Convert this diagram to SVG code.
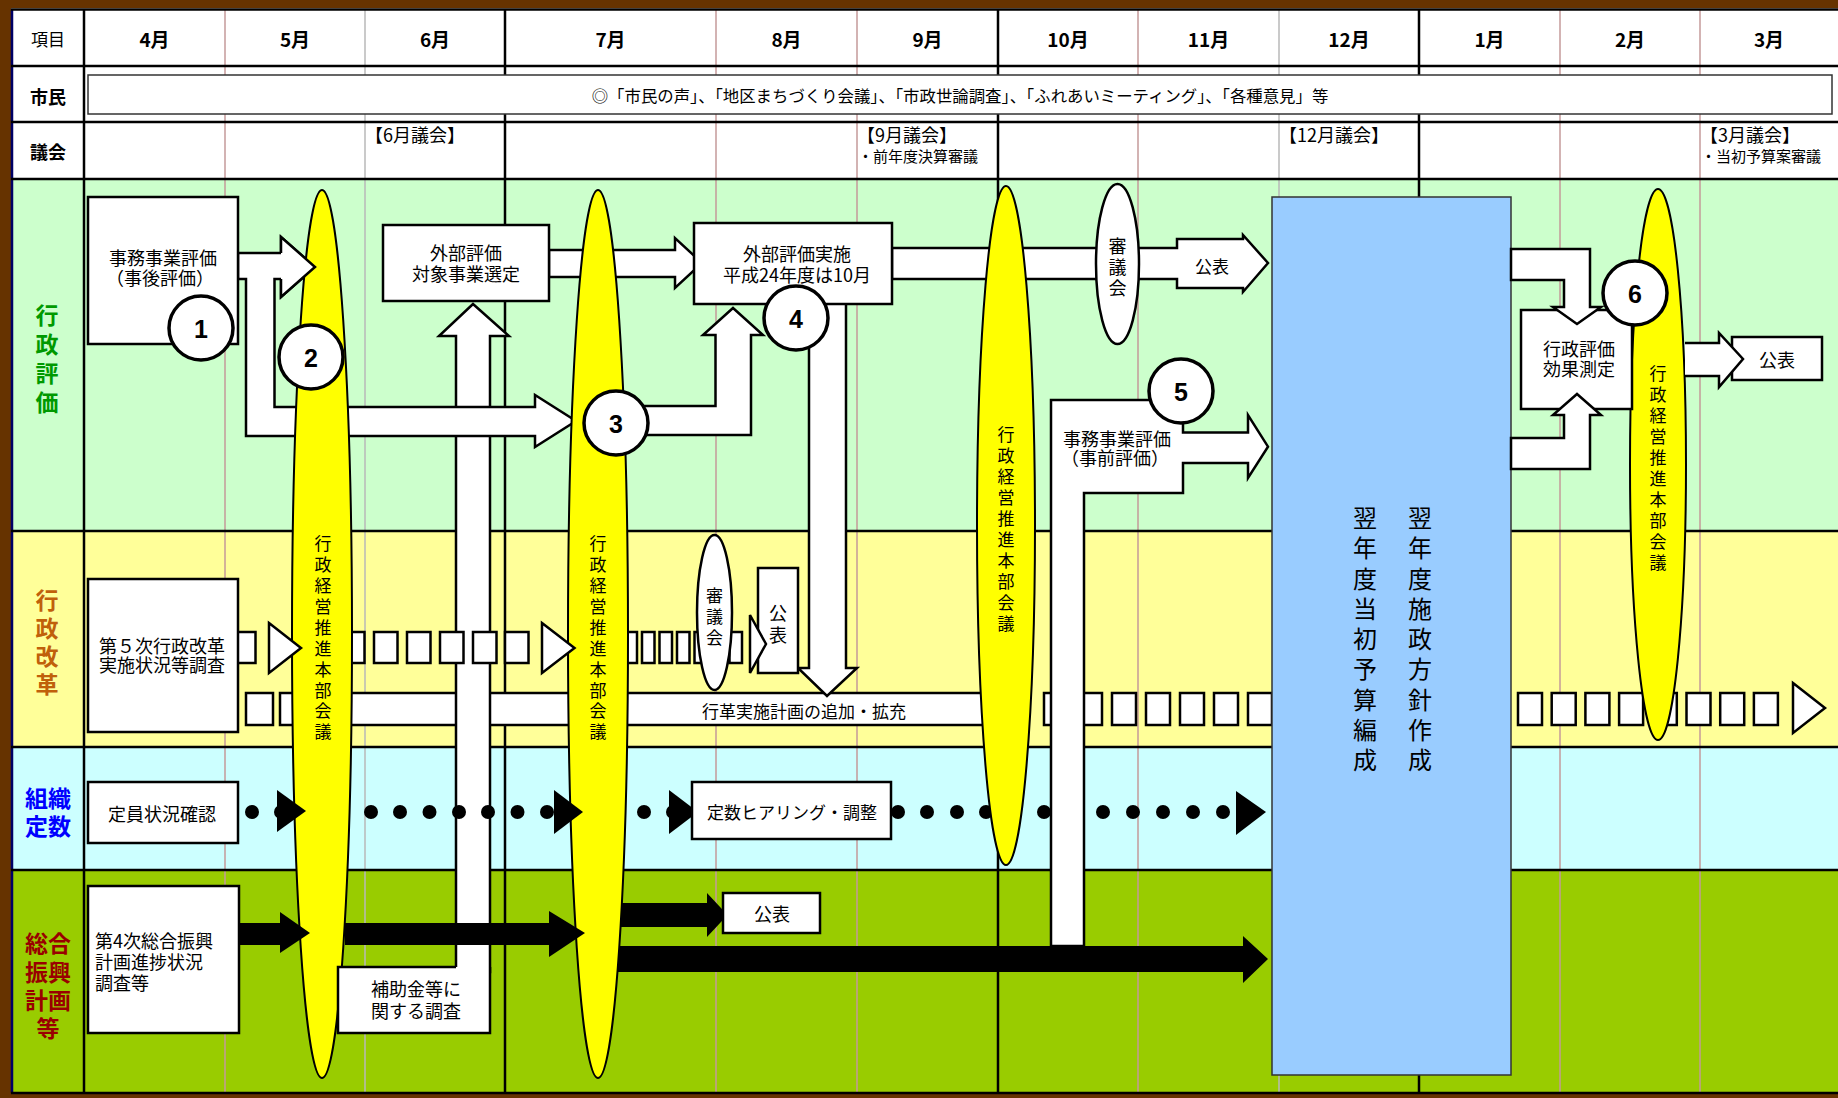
<svg xmlns="http://www.w3.org/2000/svg" width="1838" height="1098" viewBox="0 0 1838 1098">
<style>
text { font-family: "Noto Sans CJK JP", "Noto Sans CJK SC", sans-serif; fill: #000; }
.c { text-anchor: middle; dominant-baseline: central; }
.l { text-anchor: start; dominant-baseline: central; }
.b { font-weight: bold; }
.f18 { font-size: 18px; }
.f17 { font-size: 17px; }
.f15 { font-size: 15px; }
.mon { font-size: 19px; font-weight: bold; }
.lab { font-size: 23px; font-weight: bold; }
.box { fill: #fff; stroke: #000; stroke-width: 2.5; }
.arr { fill: #fff; stroke: #000; stroke-width: 2.5; stroke-linejoin: miter; }
.fillw { fill: #fff; stroke: none; }
.line { fill: none; stroke: #000; stroke-width: 2.5; }
.blk { fill: #000; stroke: none; }
.yel { fill: #ffff00; stroke: #000; stroke-width: 2; }
.circ { fill: #fff; stroke: #000; stroke-width: 3.5; }
.num { font-family: "Liberation Sans", Arial, sans-serif; font-weight: bold; font-size: 25px; text-anchor: middle; dominant-baseline: central; }
.gk { stroke: #000; stroke-width: 2.5; }
.gr { stroke: #c49a9a; stroke-width: 1.5; }
.gg { stroke: #b8b8b8; stroke-width: 1.5; }
.gh { fill: #009900; }
.kk { fill: #c0600a; }
.ss { fill: #0000ff; }
.sg { fill: #990000; }
</style>
<defs>
  <rect id="sqA" class="box" width="23.5" height="31"/>
  <rect id="sqB" class="box" width="12.5" height="31"/>
  <rect id="sqC" class="box" width="24" height="32"/>
  <circle id="dot" r="7" fill="#000"/>
</defs>

<!-- backgrounds -->
<g id="background">
  <rect x="0" y="0" width="1838" height="1098" fill="#fff"/>
  <rect x="12" y="179" width="1826" height="352" fill="#ccffcc"/>
  <rect x="12" y="531" width="1826" height="216" fill="#ffff99"/>
  <rect x="12" y="747" width="1826" height="123" fill="#ccffff"/>
  <rect x="12" y="870" width="1826" height="223" fill="#99cc00"/>
  <rect x="0" y="0" width="1838" height="8" fill="#663300"/>
  <rect x="0" y="0" width="11" height="1098" fill="#663300"/>
  <rect x="0" y="1094" width="1838" height="4" fill="#663300"/>
</g>

<!-- grid -->
<g id="grid">
  <line class="gr" x1="225" y1="9" x2="225" y2="1093"/>
  <line class="gg" x1="365" y1="9" x2="365" y2="1093"/>
  <line class="gr" x1="716" y1="9" x2="716" y2="1093"/>
  <line class="gr" x1="857" y1="9" x2="857" y2="1093"/>
  <line class="gr" x1="1138" y1="9" x2="1138" y2="1093"/>
  <line class="gg" x1="1279" y1="9" x2="1279" y2="1093"/>
  <line class="gr" x1="1560" y1="9" x2="1560" y2="1093"/>
  <line class="gr" x1="1700" y1="9" x2="1700" y2="1093"/>
  <line class="gk" x1="84" y1="9" x2="84" y2="1093"/>
  <line class="gk" x1="505" y1="9" x2="505" y2="1093"/>
  <line class="gk" x1="998" y1="9" x2="998" y2="1093"/>
  <line class="gk" x1="1419" y1="9" x2="1419" y2="1093"/>
  <line x1="12" y1="9" x2="12" y2="1093" stroke="#000066" stroke-width="2.5"/>
  <line class="gk" x1="11" y1="9.5" x2="1838" y2="9.5"/>
  <line class="gk" x1="11" y1="66" x2="1838" y2="66" stroke-width="3"/>
  <line class="gk" x1="11" y1="122" x2="1838" y2="122"/>
  <line class="gk" x1="11" y1="179" x2="1838" y2="179"/>
  <line class="gk" x1="11" y1="531" x2="1838" y2="531"/>
  <line class="gk" x1="11" y1="747" x2="1838" y2="747"/>
  <line class="gk" x1="11" y1="870" x2="1838" y2="870"/>
  <line class="gk" x1="11" y1="1093" x2="1838" y2="1093"/>
</g>

<!-- headers and row labels -->
<g id="headers">
  <text class="c f17" x="48" y="38">項目</text>
  <text class="c mon" x="154.5" y="38">4月</text>
  <text class="c mon" x="295" y="38">5月</text>
  <text class="c mon" x="435" y="38">6月</text>
  <text class="c mon" x="610.5" y="38">7月</text>
  <text class="c mon" x="786.5" y="38">8月</text>
  <text class="c mon" x="927.5" y="38">9月</text>
  <text class="c mon" x="1068" y="38">10月</text>
  <text class="c mon" x="1208.5" y="38">11月</text>
  <text class="c mon" x="1349" y="38">12月</text>
  <text class="c mon" x="1489.5" y="38">1月</text>
  <text class="c mon" x="1630" y="38">2月</text>
  <text class="c mon" x="1769" y="38">3月</text>
  <text class="c b f18" x="48" y="96">市民</text>
  <text class="c b f18" x="48" y="151">議会</text>
  <text class="c lab gh" x="47" y="314">行</text>
  <text class="c lab gh" x="47" y="343">政</text>
  <text class="c lab gh" x="47" y="372">評</text>
  <text class="c lab gh" x="47" y="401">価</text>
  <text class="c lab kk" x="47" y="599">行</text>
  <text class="c lab kk" x="47" y="627">政</text>
  <text class="c lab kk" x="47" y="655">改</text>
  <text class="c lab kk" x="47" y="683">革</text>
  <text class="c lab ss" x="48" y="797">組織</text>
  <text class="c lab ss" x="48" y="825">定数</text>
  <text class="c lab sg" x="48" y="942">総合</text>
  <text class="c lab sg" x="48" y="971">振興</text>
  <text class="c lab sg" x="48" y="999">計画</text>
  <text class="c lab sg" x="48" y="1027">等</text>
  <text class="l f18" x="365" y="134">【6月議会】</text>
  <text class="l f18" x="857" y="134">【9月議会】</text>
  <text class="l f15" x="858" y="155">・前年度決算審議</text>
  <text class="l f18" x="1279" y="134">【12月議会】</text>
  <text class="l f18" x="1700" y="134">【3月議会】</text>
  <text class="l f15" x="1701" y="155">・当初予算案審議</text>
</g>

<g id="node-shimin">
  <rect x="88" y="75" width="1744" height="39" fill="#fff" stroke="#333" stroke-width="1.5"/>
  <text class="c" font-size="16.4" x="960" y="95">◎「市民の声」、「地区まちづくり会議」、「市政世論調査」、「ふれあいミーティング」、「各種意見」等</text>
</g>

<!-- connectors (under nodes) -->
<g id="connectors">
  <!-- 行革実施計画 bar -->
  <rect class="box" x="246" y="693" width="27" height="32"/>
  <rect class="box" x="280" y="693" width="27" height="32"/>
  <rect class="box" x="340" y="693" width="650" height="32"/>
  <use href="#sqC" x="1044" y="693"/>
  <use href="#sqC" x="1078" y="693"/>
  <use href="#sqC" x="1112" y="693"/>
  <use href="#sqC" x="1146" y="693"/>
  <use href="#sqC" x="1180" y="693"/>
  <use href="#sqC" x="1214" y="693"/>
  <use href="#sqC" x="1248" y="693"/>
  <use href="#sqC" x="1518" y="693"/>
  <use href="#sqC" x="1551.7" y="693"/>
  <use href="#sqC" x="1585.4" y="693"/>
  <use href="#sqC" x="1619.1" y="693"/>
  <use href="#sqC" x="1652.8" y="693"/>
  <use href="#sqC" x="1686.5" y="693"/>
  <use href="#sqC" x="1720.2" y="693"/>
  <use href="#sqC" x="1753.9" y="693"/>
  <polygon class="arr" points="1793,683 1825,708 1793,733"/>
  <text class="c f17" x="804" y="710">行革実施計画の追加・拡充</text>

  <!-- 補助金 → 外部評価対象 shaft -->
  <polygon class="arr" points="456,972 456,336 439,336 473,304 509,336 490,336 490,972"/>

  <!-- 事後評価 → ② and L to ③ -->
  <polygon class="arr" points="238,253 281,253 281,237 315,267 281,297 281,279 274.5,279 274.5,407 535,407 535,395 576,421 535,447 535,436 246,436 246,279 238,279"/>

  <!-- 外部評価対象 → 外部評価実施 -->
  <polygon class="arr" points="549,250 675,250 675,238 702,263 675,288 675,277 549,277"/>

  <!-- 外部評価実施 → 審議会 → 公表 -->
  <polygon class="arr" points="892,248 1177,248 1177,239 1243,239 1243,235 1268,263 1243,292 1243,288 1177,288 1177,279 892,279"/>
  <text class="c f17" x="1212" y="265">公表</text>

  <!-- ③ → 外部評価実施 -->
  <polygon class="arr" points="640,406 715.5,406 715.5,335 703,335 733,308 763,335 751,335 751,435 640,435"/>

  <!-- 外部評価実施 → 行革実施計画 -->
  <polygon class="arr" points="809,302 809,668 798,668 827,696 857,668 846,668 846,302"/>

  <!-- 第5次 upper dashed arrow -->
  <use href="#sqA" x="232" y="632"/>
  <use href="#sqA" x="341" y="632"/>
  <use href="#sqA" x="374" y="632"/>
  <use href="#sqA" x="407" y="632"/>
  <use href="#sqA" x="440" y="632"/>
  <use href="#sqA" x="473" y="632"/>
  <use href="#sqA" x="505" y="632"/>
  <use href="#sqB" x="624.5" y="632"/>
  <use href="#sqB" x="642" y="632"/>
  <use href="#sqB" x="659.5" y="632"/>
  <use href="#sqB" x="677" y="632"/>
  <use href="#sqB" x="694.5" y="632"/>
  <use href="#sqB" x="712" y="632"/>
  <use href="#sqB" x="729.5" y="632"/>

  <!-- 組織定数 dotted arrows -->
  <use href="#dot" x="252" y="812"/>
  <use href="#dot" x="281" y="812"/>
  <use href="#dot" x="371" y="812"/>
  <use href="#dot" x="400" y="812"/>
  <use href="#dot" x="429.5" y="812"/>
  <use href="#dot" x="459" y="812"/>
  <use href="#dot" x="488" y="812"/>
  <use href="#dot" x="517.5" y="812"/>
  <use href="#dot" x="547" y="812"/>
  <use href="#dot" x="644" y="812"/>
  <use href="#dot" x="673" y="812"/>
  <polygon class="blk" points="669,790 698,812 669,834"/>
  <use href="#dot" x="898" y="812"/>
  <use href="#dot" x="927" y="812"/>
  <use href="#dot" x="957" y="812"/>
  <use href="#dot" x="986" y="812"/>
  <use href="#dot" x="1015" y="812"/>
  <use href="#dot" x="1044" y="812"/>
  <use href="#dot" x="1074" y="812"/>
  <use href="#dot" x="1103" y="812"/>
  <use href="#dot" x="1133" y="812"/>
  <use href="#dot" x="1163" y="812"/>
  <use href="#dot" x="1193" y="812"/>
  <use href="#dot" x="1223" y="812"/>
  <polygon class="blk" points="1236,791 1266,812 1236,835"/>

  <!-- 総合振興 black arrows from ③ -->
  <polygon class="blk" points="605,903 707,903 707,893 727.5,915 707,937 707,927 605,927"/>
  <polygon class="blk" points="605,946 1243,946 1243,936 1268,959 1243,983 1243,972 605,972"/>
</g>

<!-- yellow meeting ellipses -->
<g id="node-meeting-may">
  <ellipse class="yel" cx="322" cy="634" rx="30" ry="444"/>
  <text class="c f17" x="323" y="542">行</text><text class="c f17" x="323" y="563">政</text><text class="c f17" x="323" y="584">経</text><text class="c f17" x="323" y="605">営</text><text class="c f17" x="323" y="626">推</text><text class="c f17" x="323" y="647">進</text><text class="c f17" x="323" y="668">本</text><text class="c f17" x="323" y="689">部</text><text class="c f17" x="323" y="709">会</text><text class="c f17" x="323" y="730">議</text>
</g>
<g id="node-meeting-jul">
  <ellipse class="yel" cx="598" cy="634" rx="30" ry="444"/>
  <text class="c f17" x="598" y="542">行</text><text class="c f17" x="598" y="563">政</text><text class="c f17" x="598" y="584">経</text><text class="c f17" x="598" y="605">営</text><text class="c f17" x="598" y="626">推</text><text class="c f17" x="598" y="647">進</text><text class="c f17" x="598" y="668">本</text><text class="c f17" x="598" y="689">部</text><text class="c f17" x="598" y="709">会</text><text class="c f17" x="598" y="730">議</text>
</g>
<g id="node-meeting-oct">
  <ellipse class="yel" cx="1006" cy="525.5" rx="29" ry="339.5"/>
  <text class="c f17" x="1006" y="433">行</text><text class="c f17" x="1006" y="454">政</text><text class="c f17" x="1006" y="475">経</text><text class="c f17" x="1006" y="496">営</text><text class="c f17" x="1006" y="517">推</text><text class="c f17" x="1006" y="538">進</text><text class="c f17" x="1006" y="559">本</text><text class="c f17" x="1006" y="580">部</text><text class="c f17" x="1006" y="601">会</text><text class="c f17" x="1006" y="622">議</text>
</g>
<g id="node-meeting-feb">
  <ellipse class="yel" cx="1658" cy="464.5" rx="28" ry="275.5"/>
  <text class="c f17" x="1658" y="372">行</text><text class="c f17" x="1658" y="393">政</text><text class="c f17" x="1658" y="414">経</text><text class="c f17" x="1658" y="435">営</text><text class="c f17" x="1658" y="456">推</text><text class="c f17" x="1658" y="477">進</text><text class="c f17" x="1658" y="498">本</text><text class="c f17" x="1658" y="519">部</text><text class="c f17" x="1658" y="540">会</text><text class="c f17" x="1658" y="561">議</text>
</g>

<!-- nodes -->
<g id="node-jigo">
  <rect class="box" x="88" y="197" width="150" height="147"/>
  <text class="c f18" x="163" y="257">事務事業評価</text>
  <text class="c f18" x="160" y="277">（事後評価）</text>
</g>
<g id="node-gaibu-sentei">
  <rect class="box" x="383" y="225" width="166" height="76"/>
  <text class="c f18" x="466" y="252">外部評価</text>
  <text class="c f18" x="466" y="273">対象事業選定</text>
</g>
<g id="node-gaibu-jisshi">
  <rect class="box" x="694" y="223" width="198" height="81"/>
  <text class="c f18" x="797" y="253">外部評価実施</text>
  <text class="c f18" x="797" y="274">平成24年度は10月</text>
</g>
<g id="node-shingikai-1">
  <ellipse class="box" cx="1117.5" cy="264" rx="21.5" ry="80"/>
  <text class="c f18" x="1117.5" y="245">審</text>
  <text class="c f18" x="1117.5" y="266">議</text>
  <text class="c f18" x="1117.5" y="287">会</text>
</g>
<g id="node-jizen">
  <polygon class="box" points="1051,400 1183,400 1183,432.6 1248,432.6 1248,415 1268,446.7 1248,478 1248,463 1183,463 1183,493 1084,493 1084,946 1051,946"/>
  <text class="c f18" x="1117" y="438">事務事業評価</text>
  <text class="c f18" x="1115" y="457">（事前評価）</text>
</g>
<g id="node-budget">
  <rect x="1272" y="197" width="239" height="878" fill="#99ccff" stroke="#333" stroke-width="1.5"/>
  <text class="c" font-size="24" x="1420" y="516">翌</text><text class="c" font-size="24" x="1420" y="546">年</text><text class="c" font-size="24" x="1420" y="577">度</text><text class="c" font-size="24" x="1420" y="607">施</text><text class="c" font-size="24" x="1420" y="637">政</text><text class="c" font-size="24" x="1420" y="667">方</text><text class="c" font-size="24" x="1420" y="698">針</text><text class="c" font-size="24" x="1420" y="728">作</text><text class="c" font-size="24" x="1420" y="758">成</text>
  <text class="c" font-size="24" x="1365" y="516">翌</text><text class="c" font-size="24" x="1365" y="546">年</text><text class="c" font-size="24" x="1365" y="577">度</text><text class="c" font-size="24" x="1365" y="607">当</text><text class="c" font-size="24" x="1365" y="637">初</text><text class="c" font-size="24" x="1365" y="667">予</text><text class="c" font-size="24" x="1365" y="698">算</text><text class="c" font-size="24" x="1365" y="728">編</text><text class="c" font-size="24" x="1365" y="758">成</text>
</g>
<g id="node-kouka">
  <rect class="box" x="1521" y="310" width="111" height="99"/>
  <text class="c f18" x="1579" y="348">行政評価</text>
  <text class="c f18" x="1579" y="368">効果測定</text>
</g>
<g id="node-kohyo-mar">
  <rect class="box" x="1732" y="337" width="90" height="43"/>
  <text class="c f18" x="1777" y="359">公表</text>
</g>
<g id="node-gyokaku">
  <rect class="box" x="88" y="579" width="150" height="153"/>
  <text class="c f18" x="162" y="645">第５次行政改革</text>
  <text class="c f18" x="162" y="664">実施状況等調査</text>
</g>
<g id="node-shingikai-2">
  <ellipse class="box" cx="714.5" cy="612.5" rx="17.5" ry="77.5"/>
  <text class="c f17" x="714.5" y="594">審</text>
  <text class="c f17" x="714.5" y="615">議</text>
  <text class="c f17" x="714.5" y="636">会</text>
</g>
<g id="node-kohyo-aug">
  <rect class="box" x="758" y="568" width="40" height="105"/>
  <text class="c f18" x="778" y="612">公</text>
  <text class="c f18" x="778" y="634">表</text>
</g>
<g id="node-teiin">
  <rect class="box" x="88" y="782" width="150" height="61"/>
  <text class="c f18" x="162" y="813">定員状況確認</text>
</g>
<g id="node-hearing">
  <rect class="box" x="692" y="782" width="199" height="57"/>
  <text class="c f17" x="792" y="811">定数ヒアリング・調整</text>
</g>
<g id="node-sogo">
  <rect class="box" x="88" y="886" width="151" height="147"/>
  <text class="l f18" x="95" y="940">第4次総合振興</text>
  <text class="l f18" x="95" y="961">計画進捗状況</text>
  <text class="l f18" x="95" y="982">調査等</text>
</g>
<g id="node-hojokin">
  <rect x="338" y="967" width="152" height="66" fill="#fff"/>
  <path d="M456,967 H338 V1033 H490 V967" class="line"/>
  <text class="c f18" x="416" y="988">補助金等に</text>
  <text class="c f18" x="416" y="1010">関する調査</text>
</g>
<g id="node-kohyo-sogo">
  <rect class="box" x="723" y="893" width="97" height="40"/>
  <text class="c f18" x="772" y="913">公表</text>
</g>

<!-- connectors drawn over nodes -->
<g id="connectors-over">
  <polygon class="fillw" points="281,238 314,267 281,296"/>
  <polyline class="line" points="281,253 281,237 315,267 281,297 281,279"/>
  <polygon class="arr" points="269,623 301,648 269,673"/>
  <polygon class="arr" points="542,623 574.5,648 542,673"/>
  <polygon class="arr" points="750,615 766,644 750,673"/>
  <polygon class="blk" points="277,790 306,811 277,832"/>
  <polygon class="blk" points="554,790 583,812 554,834"/>
  <polygon class="blk" points="239,923 280,923 280,912 310,933 280,953 280,945 239,945"/>
  <polygon class="blk" points="345,923 549,923 549,911 585,933 549,957 549,945 345,945"/>
  <polygon class="arr" points="1511,249 1590,249 1590,307 1601,307 1577,324 1553,307 1564,307 1564,280 1511,280"/>
  <polygon class="arr" points="1511,469 1590,469 1590,415 1601,415 1577,394 1553,415 1564,415 1564,438 1511,438"/>
  <polygon class="fillw" points="1685,343 1719,343 1719,333 1743,359 1719,387 1719,376 1685,376"/>
  <polyline class="line" points="1685,343 1719,343 1719,333 1743,359 1719,387 1719,376 1685,376"/>
</g>

<!-- numbered circles -->
<g id="node-c1"><circle class="circ" cx="201" cy="328" r="32"/><text class="num" x="201" y="329">1</text></g>
<g id="node-c2"><circle class="circ" cx="311" cy="357" r="32"/><text class="num" x="311" y="358">2</text></g>
<g id="node-c3"><circle class="circ" cx="616" cy="423" r="32"/><text class="num" x="616" y="424">3</text></g>
<g id="node-c4"><circle class="circ" cx="796" cy="318" r="32"/><text class="num" x="796" y="319">4</text></g>
<g id="node-c5"><circle class="circ" cx="1181" cy="391" r="32"/><text class="num" x="1181" y="392">5</text></g>
<g id="node-c6"><circle class="circ" cx="1635" cy="293" r="32"/><text class="num" x="1635" y="294">6</text></g>
</svg>
